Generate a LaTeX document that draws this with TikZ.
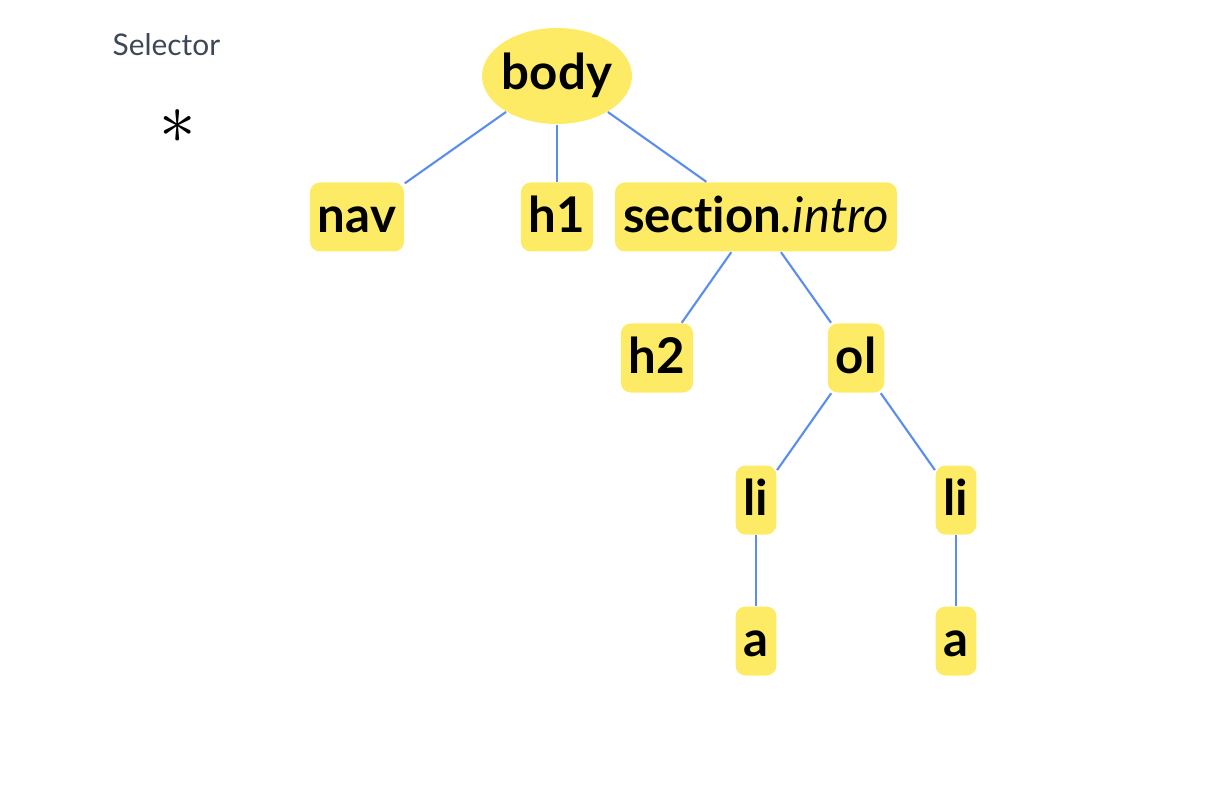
\documentclass[tikz,border=0pt]{standalone}
\usepackage{fontspec}
\setmainfont{Lato}[Ligatures={NoCommon}]
\usepackage{xcolor}
\usetikzlibrary{shapes,positioning,calc}
\definecolor{tagfill}{HTML}{FDEB65}
\definecolor{edgeblue}{HTML}{5A8DEE}
\definecolor{labelgray}{HTML}{3D4756}

\begin{document}
\begin{tikzpicture}[
    tag/.style={fill=tagfill, rounded corners=0.1cm, minimum height=0.69cm, inner xsep=0.08cm, inner ysep=0pt, text height=0.50cm, text depth=0.19cm, font=\fontsize{14pt}{17pt}\selectfont\bfseries},
    root/.style={fill=tagfill, ellipse, minimum width=1.5cm, minimum height=0.96cm, inner xsep=-0.02cm, inner ysep=0pt, text height=0.42cm, text depth=0.14cm, font=\fontsize{14pt}{17pt}\selectfont\bfseries},
    edge/.style={edgeblue, line width=0.6pt}]
    \useasboundingbox (0,0) rectangle (12.12,-7.94);

    \node[anchor=base west, inner sep=0pt, text=labelgray, font=\fontsize{8.5pt}{10pt}\selectfont] (sel) at (1.12,-0.56) {Selector};
    \node[font=\fontsize{20pt}{24pt}\selectfont] (star) at (1.78,-1.27) {$\ast$};

    \node[root] (body) at (5.57,-0.76) {body};
    \node[tag] (nav) at (3.57,-2.17) {nav};
    \node[tag] (hone) at (5.57,-2.17) {h1};
    \node[tag] (sec) at (7.56,-2.17) {section\normalfont\itshape.intro};
    \node[tag] (htwo) at (6.57,-3.58) {h2};
    \node[tag] (ol) at (8.56,-3.58) {ol};
    \node[tag] (lileft) at (7.56,-5.00) {li};
    \node[tag] (liright) at (9.56,-5.00) {li};
    \node[tag] (aleft) at (7.56,-6.41) {a};
    \node[tag] (aright) at (9.56,-6.41) {a};

    \draw[edge] (body) -- (nav);
    \draw[edge] (body) -- (hone);
    \draw[edge] (body) -- (sec);
    \draw[edge] (sec) -- (htwo);
    \draw[edge] (sec) -- (ol);
    \draw[edge] (ol) -- (lileft);
    \draw[edge] (ol) -- (liright);
    \draw[edge] (lileft) -- (aleft);
    \draw[edge] (liright) -- (aright);
\end{tikzpicture}
\end{document}
